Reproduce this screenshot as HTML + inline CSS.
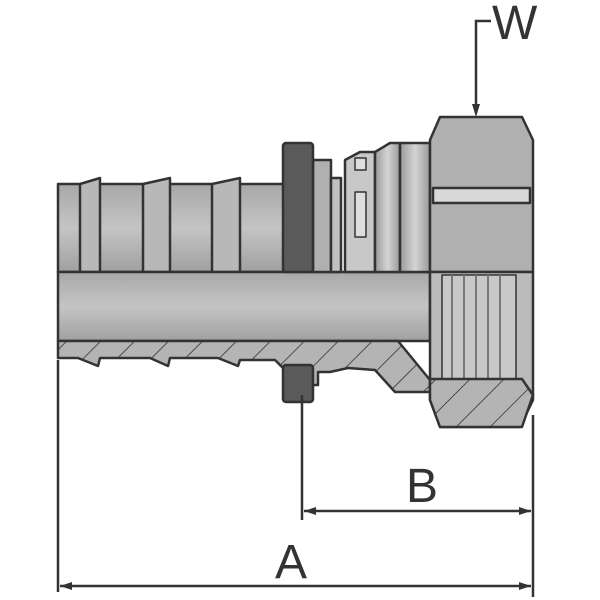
<!DOCTYPE html>
<html><head><meta charset="utf-8"><style>
html,body{margin:0;padding:0;background:#fff;width:600px;height:600px;overflow:hidden}
</style></head><body>
<svg width="600" height="600" viewBox="0 0 600 600" xmlns="http://www.w3.org/2000/svg">
<defs>
<linearGradient id="g1" x1="0" y1="0" x2="0" y2="1">
<stop offset="0" stop-color="#a8a8a8"/><stop offset="0.5" stop-color="#c4c4c4"/><stop offset="1" stop-color="#a0a0a0"/></linearGradient>
<linearGradient id="g2" x1="0" y1="0" x2="1" y2="0">
<stop offset="0" stop-color="#9a9a9a"/><stop offset="0.5" stop-color="#d4d4d4"/><stop offset="1" stop-color="#9a9a9a"/></linearGradient>
<pattern id="h" width="24" height="24" patternUnits="userSpaceOnUse" patternTransform="rotate(45)">
<rect width="24" height="24" fill="#b4b4b4"/><line x1="0" y1="0" x2="0" y2="24" stroke="#333" stroke-width="1.6"/></pattern>
</defs>
<g stroke="#333" stroke-width="2.5" stroke-linejoin="round">
<rect x="58" y="184" width="230" height="88" fill="url(#g1)"/>
<polygon points="80,184 100,178 100,272 80,272" fill="#b8b8b8"/>
<polygon points="143,184 170,178 170,272 143,272" fill="#b8b8b8"/>
<polygon points="212,184 240,178 240,272 212,272" fill="#b8b8b8"/>
<rect x="58" y="272" width="372" height="69" fill="url(#g1)"/>
<polygon points="58,341 398,341 430,380 430,392 395,392 375,370 348,368 330,372 318,372 318,385 300,385 275,360 240,360 238,366 218,358 170,358 168,366 150,358 100,358 98,366 78,358 58,358" fill="url(#h)"/>
<rect x="313" y="160" width="18" height="112" fill="#b0b0b0"/>
<rect x="331" y="178" width="10" height="94" fill="#c0c0c0"/>
<polygon points="345,160 360,152 375,152 375,272 345,272" fill="#c8c8c8"/>
<rect x="355" y="158" width="11" height="12" fill="#ddd" stroke-width="1.5"/>
<rect x="355" y="192" width="11" height="45" fill="#ddd" stroke-width="1.5"/>
<polygon points="375,152 390,143 400,143 400,272 375,272" fill="url(#g2)"/>
<rect x="400" y="143" width="30" height="129" fill="url(#g2)"/>
<rect x="283" y="143" width="30" height="129" rx="3" fill="#5a5a5a"/>
<rect x="283" y="365" width="30" height="37" rx="3" fill="#5a5a5a"/>
<polygon points="430,140 440,117 522,117 533,140 533,272 430,272" fill="#b0b0b0"/>
<rect x="433" y="188" width="97" height="15" fill="#d8d8d8"/>
<polygon points="430,272 533,272 533,400 520,427 440,427 430,400" fill="#bbb"/>
<rect x="442" y="275" width="74" height="104" fill="#c8c8c8" stroke-width="1.5"/>
<g stroke="#777" stroke-width="2"><line x1="452" y1="275" x2="452" y2="379"/><line x1="464" y1="275" x2="464" y2="379"/><line x1="476" y1="275" x2="476" y2="379"/><line x1="488" y1="275" x2="488" y2="379"/><line x1="500" y1="275" x2="500" y2="379"/></g>
<polygon points="430,379 522,379 533,395 522,427 440,427 430,400" fill="url(#h)"/>
</g>
<g stroke="#333" stroke-width="2.5" fill="none">
<line x1="58" y1="360" x2="58" y2="592"/>
<line x1="302" y1="395" x2="302" y2="520"/>
<line x1="533" y1="415" x2="533" y2="597"/>
<line x1="304" y1="511" x2="531" y2="511"/>
<line x1="60" y1="586" x2="531" y2="586"/>
<polyline points="491,21 476,21 476,113"/>
</g>
<g fill="#333">
<polygon points="304,511 316,507 316,515"/><polygon points="531,511 519,507 519,515"/>
<polygon points="60,586 72,582 72,590"/><polygon points="531,586 519,582 519,590"/>
<polygon points="476,117 472,104 480,104"/>
</g>
<g font-family="Liberation Sans, sans-serif" fill="#333" font-size="48">
<text x="492" y="39">W</text>
<text x="406" y="502">B</text>
<text x="275" y="578">A</text>
</g>
</svg>
</body></html>
